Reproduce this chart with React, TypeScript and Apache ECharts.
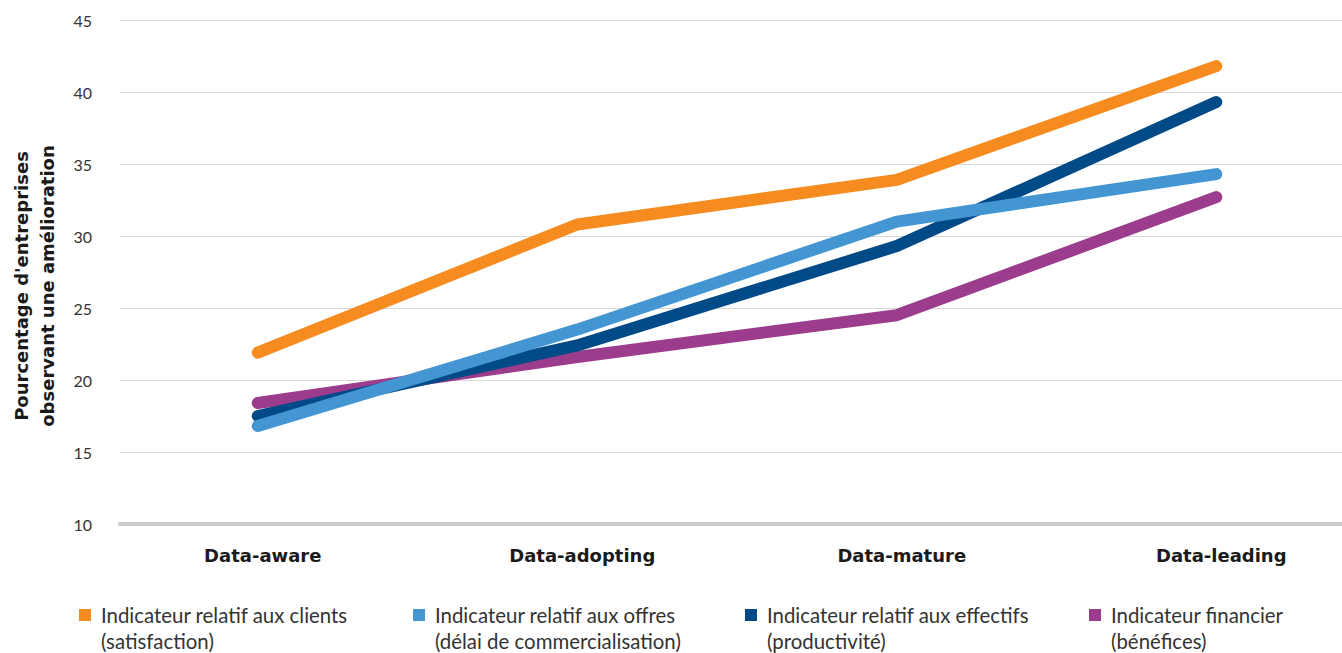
import React, { useEffect, useRef } from "react";
import * as echarts from "echarts";

// Maturity stages on the horizontal axis
const stages = ["Data-aware", "Data-adopting", "Data-mature", "Data-leading"];

// Share of companies reporting an improvement, per indicator (%)
const clients = [21.9, 30.8, 33.9, 41.8];
const offres = [16.8, 23.5, 31.0, 34.3];
const effectifs = [17.5, 22.4, 29.3, 39.3];
const financier = [18.4, 21.6, 24.5, 32.7];

// Value axis range
const yMin = 10;
const yMax = 45;
const yStep = 5;

const seriesNames = [
  "Indicateur relatif aux clients\n(satisfaction)",
  "Indicateur relatif aux offres\n(délai de commercialisation)",
  "Indicateur relatif aux effectifs\n(productivité)",
  "Indicateur financier\n(bénéfices)",
];
const seriesData = [clients, offres, effectifs, financier];
const colors = ["#F68B1F", "#4396D2", "#004B87", "#9B3C8C"];
const stacking = [5, 4, 3, 2];
const legendLeft = [79, 413, 745, 1089];

const FONT = "Lato, 'Open Sans', sans-serif";
const BOLD_FONT = "'DejaVu Sans', Lato, sans-serif";

export default function App() {
  const ref = useRef<HTMLDivElement>(null);

  useEffect(() => {
    if (!ref.current) return;
    const chart = echarts.init(ref.current, undefined, { renderer: "svg" });

    const option: echarts.EChartsOption = {
      animation: false,
      backgroundColor: "#ffffff",
      textStyle: { fontFamily: FONT },
      grid: [
        // frame carrying the gridlines and the baseline
        { left: 120, right: 0, top: 20, bottom: 129, outerBoundsMode: "none" },
        // frame carrying the lines and the stage labels (wider than the page on the right)
        { left: 98, width: 1278, top: 20, bottom: 129, outerBoundsMode: "none" },
      ],
      xAxis: [
        {
          gridIndex: 0,
          type: "value",
          min: 0,
          max: 1,
          axisLine: { show: true, onZero: false, lineStyle: { color: "#cccccc", width: 4 } },
          axisTick: { show: false },
          axisLabel: { show: false },
          splitLine: { show: false },
        },
        {
          gridIndex: 1,
          type: "category",
          data: stages,
          boundaryGap: true,
          axisLine: { show: false },
          axisTick: { show: false },
          splitLine: { show: false },
          axisLabel: {
            color: "#1a1a1a",
            fontWeight: "bold",
            fontSize: 18,
            fontFamily: BOLD_FONT,
            margin: 22,
            padding: [0, 0, 0, 10],
          },
        },
      ],
      yAxis: [
        {
          gridIndex: 0,
          type: "value",
          min: yMin,
          max: yMax,
          interval: yStep,
          axisLine: { show: false },
          axisTick: { show: false },
          axisLabel: { color: "#333333", fontSize: 16, fontFamily: FONT, margin: 28 },
          splitLine: { show: true, lineStyle: { color: "#d9d9d9", width: 1 } },
          name: "Pourcentage d'entreprises\nobservant une amélioration",
          nameLocation: "middle",
          nameGap: 60,
          nameTextStyle: {
            color: "#1a1a1a",
            fontWeight: "bold",
            fontSize: 18,
            lineHeight: 26,
            fontFamily: BOLD_FONT,
            padding: [0, 28, 0, 0],
          },
        },
        {
          gridIndex: 1,
          type: "value",
          min: yMin,
          max: yMax,
          show: false,
        },
      ],
      legend: seriesNames.map((name, i) => ({
        left: legendLeft[i],
        top: 576,
        padding: 0,
        selectedMode: false,
        itemWidth: 12,
        itemHeight: 12,
        icon: "rect",
        data: [{ name }],
        // leading blank line keeps the first text line level with the swatch
        formatter: (n: string) => "\n" + n,
        textStyle: {
          color: "#333333",
          fontSize: 20.4,
          lineHeight: 26,
          fontFamily: FONT,
          padding: [0, 0, 0, 5],
        },
      })),
      series: seriesNames.map((name, i) => ({
        name,
        type: "line",
        xAxisIndex: 1,
        yAxisIndex: 1,
        data: seriesData[i],
        symbol: "none",
        clip: false,
        z: stacking[i],
        color: colors[i],
        lineStyle: { color: colors[i], width: 12, cap: "round", join: "round" },
      })),
    };

    chart.setOption(option);
    return () => chart.dispose();
  }, []);

  return (
    <div
      ref={ref}
      style={{ position: "fixed", left: 0, top: 0, width: 1342, height: 653, background: "#fff" }}
    />
  );
}
